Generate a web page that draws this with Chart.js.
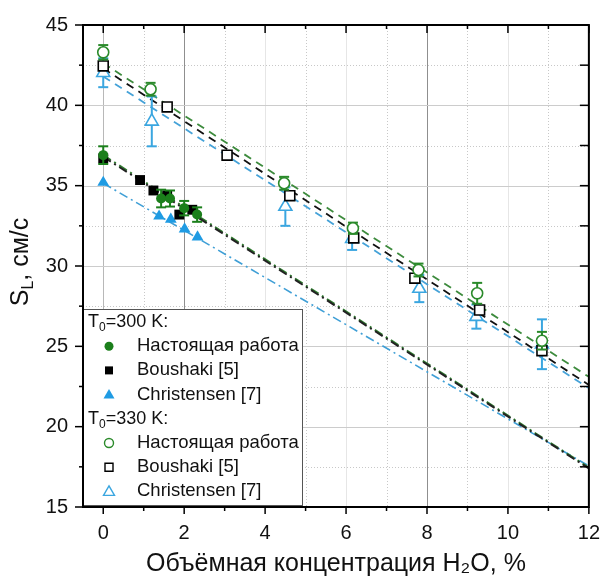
<!DOCTYPE html>
<html>
<head>
<meta charset="utf-8">
<script src="https://cdn.jsdelivr.net/npm/chart.js@4.4.1/dist/chart.umd.min.js"></script>
<style>
  html, body { margin: 0; padding: 0; background: #fff; }
  canvas { display: block; }
</style>
</head>
<body>
<canvas id="chart" width="606" height="580"></canvas>
<script>
const xTicks = [0, 2, 4, 6, 8, 10, 12];
const yTicks = [15, 20, 25, 30, 35, 40, 45];

// T0 = 300 K
const ours300X = [0, 1.43, 1.65, 2.0, 2.32];
const ours300Y = [36.9, 34.2, 34.2, 33.6, 33.2];
const ours300Err = [0.55, 0.55, 0.5, 0.45, 0.45];
const boushaki300X = [0, 0.91, 1.24, 1.58, 1.88, 2.2];
const boushaki300Y = [36.7, 35.35, 34.7, 34.4, 33.2, 33.5];
const christ300X = [0, 1.38, 1.67, 2.01, 2.33];
const christ300Y = [35.2, 33.1, 32.9, 32.3, 31.8];

// T0 = 330 K
const ours330X = [0, 1.17, 4.47, 6.17, 7.79, 9.24, 10.84];
const ours330Y = [43.3, 41.0, 35.15, 32.35, 29.75, 28.3, 25.35];
const ours330Err = [0.45, 0.4, 0.4, 0.35, 0.4, 0.65, 0.55];
const boushaki330X = [0, 1.58, 3.06, 4.61, 6.19, 7.7, 9.3, 10.84];
const boushaki330Y = [42.45, 39.9, 36.9, 34.38, 31.75, 29.24, 27.26, 24.73];
const christ330X = [0, 1.2, 4.5, 6.15, 7.81, 9.22, 10.84];
const christ330Y = [42.03, 39.0, 33.7, 31.7, 28.6, 26.85, 25.13];
const christ330Err = [0.9, 1.55, 1.2, 0.7, 0.85, 0.75, 1.55];

// linear fits, values at x = 0 and x = 12
const fitX = [0, 12];
const fitOurs300 = [36.9, 17.45];
const fitBoushaki300 = [36.8, 17.4];
const fitChrist300 = [35.15, 17.55];
const fitOurs330 = [42.62, 23.1];
const fitBoushaki330 = [42.3, 22.6];
const fitChrist330 = [41.8, 22.4];

const GREEN = '#1b7f1b';
const BLUE = '#1f9be3';
const BLACK = '#000000';

Chart.defaults.font.family = '"Liberation Sans", Arial, sans-serif';
Chart.defaults.color = '#111';

function markers(label, group, xs, ys, errs, style, color, filled, radius) {
  return {
    type: 'scatter',
    label: label,
    group: group,
    data: xs.map((x, i) => ({ x: x, y: ys[i] })),
    errors: errs,
    pointStyle: style,
    pointRadius: radius,
    pointHoverRadius: radius,
    backgroundColor: filled ? color : '#ffffff',
    borderColor: color,
    borderWidth: filled ? 0 : 1.6,
    order: 0
  };
}

function fit(vals, color, dash, width) {
  return {
    type: 'line',
    data: fitX.map((x, i) => ({ x: x, y: vals[i] })),
    borderColor: color,
    borderDash: dash,
    borderWidth: width,
    pointRadius: 0,
    fill: false,
    showLine: true,
    order: 1
  };
}

const dashDot = [9, 4, 2, 4];
const dashed = [8, 6];

const datasets = [
  fit(fitBoushaki300, '#222', dashDot, 2),
  fit(fitOurs300, '#2f7a2f', dashDot, 2),
  fit(fitChrist300, '#3f9fd6', dashDot, 1.6),
  fit(fitOurs330, '#3d8b3d', dashed, 1.8),
  fit(fitBoushaki330, '#111', dashed, 1.8),
  fit(fitChrist330, '#45a2d8', dashed, 1.8),
  markers('Настоящая работа', 300, ours300X, ours300Y, ours300Err, 'circle', GREEN, true, 5),
  markers('Boushaki [5]', 300, boushaki300X, boushaki300Y, null, 'rect', BLACK, true, 7),
  markers('Christensen [7]', 300, christ300X, christ300Y, null, 'triangle', BLUE, true, 6.8),
  markers('Настоящая работа', 330, ours330X, ours330Y, ours330Err, 'circle', '#2a8a2a', false, 5.5),
  markers('Boushaki [5]', 330, boushaki330X, boushaki330Y, null, 'rect', BLACK, false, 7),
  markers('Christensen [7]', 330, christ330X, christ330Y, christ330Err, 'triangle', '#3aa6e0', false, 7.5)
];

function strokeLine(ctx, x1, y1, x2, y2) {
  ctx.beginPath();
  ctx.moveTo(x1, y1);
  ctx.lineTo(x2, y2);
  ctx.stroke();
}

// grid lines under the data
const gridPlugin = {
  id: 'gridLines',
  beforeDatasetsDraw(chart) {
    const { ctx, chartArea: a, scales: { x, y } } = chart;
    ctx.save();
    ctx.lineWidth = 1;
    for (let i = 0; i < xTicks.length; i++) {
      const v = xTicks[i];
      const px = Math.round(x.getPixelForValue(v)) + 0.5;
      ctx.setLineDash([]);
      ctx.strokeStyle = (v === 2 || v === 8) ? '#8f8f8f' : (v === 0 ? '#b8b8b8' : '#e6e6e6');
      strokeLine(ctx, px, a.top, px, a.bottom);
      if (i < xTicks.length - 1) {
        const m = (v + xTicks[i + 1]) / 2;
        const pm = Math.round(x.getPixelForValue(m)) + 0.5;
        ctx.setLineDash([1, 2]);
        ctx.strokeStyle = '#c8c8c8';
        strokeLine(ctx, pm, a.top, pm, a.bottom);
      }
    }
    for (let i = 0; i < yTicks.length; i++) {
      const v = yTicks[i];
      const py = Math.round(y.getPixelForValue(v)) + 0.5;
      ctx.setLineDash([]);
      ctx.strokeStyle = '#cccccc';
      strokeLine(ctx, a.left, py, a.right, py);
      if (i < yTicks.length - 1) {
        const m = (v + yTicks[i + 1]) / 2;
        const pm = Math.round(y.getPixelForValue(m)) + 0.5;
        ctx.setLineDash([1, 2]);
        ctx.strokeStyle = '#c8c8c8';
        strokeLine(ctx, a.left, pm, a.right, pm);
      }
    }
    ctx.restore();
  }
};

// error bars drawn just before their markers
const errorBarPlugin = {
  id: 'errorBars',
  beforeDatasetDraw(chart, args) {
    const ds = chart.data.datasets[args.index];
    if (!ds.errors) return;
    const { ctx, scales: { y } } = chart;
    ctx.save();
    ctx.strokeStyle = ds.borderColor;
    ctx.lineWidth = 2;
    args.meta.data.forEach((el, i) => {
      const e = ds.errors[i];
      const v = ds.data[i].y;
      const top = y.getPixelForValue(v + e);
      const bot = y.getPixelForValue(v - e);
      strokeLine(ctx, el.x, top, el.x, bot);
      strokeLine(ctx, el.x - 5, top, el.x + 5, top);
      strokeLine(ctx, el.x - 5, bot, el.x + 5, bot);
    });
    ctx.restore();
  }
};

function drawMarker(ctx, style, x, y, r, fillColor, strokeColor, lw) {
  ctx.beginPath();
  if (style === 'circle') {
    ctx.arc(x, y, r, 0, Math.PI * 2);
  } else if (style === 'rect') {
    ctx.rect(x - r, y - r, 2 * r, 2 * r);
  } else {
    ctx.moveTo(x, y - r * 1.1);
    ctx.lineTo(x + r * 1.1, y + r * 0.8);
    ctx.lineTo(x - r * 1.1, y + r * 0.8);
    ctx.closePath();
  }
  if (fillColor) { ctx.fillStyle = fillColor; ctx.fill(); }
  if (lw) { ctx.strokeStyle = strokeColor; ctx.lineWidth = lw; ctx.stroke(); }
}

function drawSubText(ctx, x, y, parts, size, subSize, align) {
  // parts: [[text, isSub], ...]
  let total = 0;
  parts.forEach(p => {
    ctx.font = (p[1] ? subSize : size) + 'px "Liberation Sans", Arial, sans-serif';
    total += ctx.measureText(p[0]).width;
  });
  let cx = align === 'center' ? x - total / 2 : x;
  ctx.textAlign = 'left';
  ctx.textBaseline = 'middle';
  parts.forEach(p => {
    ctx.font = (p[1] ? subSize : size) + 'px "Liberation Sans", Arial, sans-serif';
    ctx.fillText(p[0], cx, p[1] ? y + size * 0.3 : y);
    cx += ctx.measureText(p[0]).width;
  });
}

// frame, tick marks, legend and y title
const framePlugin = {
  id: 'frame',
  afterDatasetsDraw(chart) {
    const { ctx, chartArea: a, scales: { x, y } } = chart;
    ctx.save();
    ctx.strokeStyle = '#000';
    ctx.lineWidth = 1.5;
    for (let i = 0; i < xTicks.length; i++) {
      const vals = [xTicks[i]];
      if (i < xTicks.length - 1) vals.push((xTicks[i] + xTicks[i + 1]) / 2);
      vals.forEach((v, k) => {
        const px = x.getPixelForValue(v);
        strokeLine(ctx, px, a.bottom, px, a.bottom + (k === 0 ? 7 : 4));
        strokeLine(ctx, px, a.top, px, a.top + (k === 0 ? 8 : 4));
      });
    }
    for (let i = 0; i < yTicks.length; i++) {
      const vals = [yTicks[i]];
      if (i < yTicks.length - 1) vals.push((yTicks[i] + yTicks[i + 1]) / 2);
      vals.forEach((v, k) => {
        const py = y.getPixelForValue(v);
        strokeLine(ctx, a.left, py, a.left - (k === 0 ? 8 : 4), py);
        strokeLine(ctx, a.right, py, a.right - 9, py);
      });
    }

    // legend box
    const lx = a.left, ly = a.bottom - 198, lw = 219, lh = 196;
    ctx.fillStyle = '#ffffff';
    ctx.fillRect(lx, ly, lw, lh);
    ctx.lineWidth = 1;
    ctx.strokeStyle = '#555';
    ctx.strokeRect(lx + 0.5, ly + 0.5, lw, lh);

    const rowH = 24.2;
    let ry = ly + 13;
    [300, 330].forEach(t => {
      ctx.fillStyle = '#111';
      drawSubText(ctx, lx + 5, ry, [['T', false], ['0', true], ['=' + t + ' K:', false]], 18, 12, 'left');
      ry += rowH;
      chart.data.datasets.filter(d => d.group === t).forEach(d => {
        const filled = d.borderWidth === 0;
        const r = d.pointStyle === 'circle' ? 4.5 : (d.pointStyle === 'rect' ? 4 : 5);
        drawMarker(ctx, d.pointStyle, lx + 26, ry, r,
          filled ? d.backgroundColor : '#ffffff', d.borderColor, filled ? 0 : 1.4);
        ctx.fillStyle = '#111';
        drawSubText(ctx, lx + 54, ry, [[d.label, false]], 18.5, 12, 'left');
        ry += rowH;
      });
    });

    // axis frame
    ctx.strokeStyle = '#000';
    ctx.lineWidth = 2;
    ctx.strokeRect(a.left, a.top, a.right - a.left, a.bottom - a.top);
    ctx.restore();
  },
  afterDraw(chart) {
    const { ctx, chartArea: a } = chart;
    ctx.save();
    ctx.translate(21, (a.top + a.bottom) / 2 - 4);
    ctx.rotate(-Math.PI / 2);
    ctx.fillStyle = '#111';
    drawSubText(ctx, 0, 0, [['S', false], ['L', true], [', см/с', false]], 25, 16, 'center');
    ctx.restore();
  }
};

new Chart(document.getElementById('chart'), {
  type: 'scatter',
  data: { datasets: datasets },
  options: {
    responsive: false,
    animation: false,
    devicePixelRatio: 1,
    layout: { padding: { top: 25, right: 14, left: 0, bottom: 0 } },
    plugins: { legend: { display: false }, tooltip: { enabled: false } },
    scales: {
      x: {
        type: 'linear',
        min: -0.5,
        max: 12,
        afterBuildTicks: s => { s.ticks = xTicks.map(v => ({ value: v })); },
        afterFit: s => { s.height = 73; },
        grid: { display: false },
        border: { display: false },
        ticks: { font: { size: 20 }, color: '#111', padding: 6, maxRotation: 0 },
        title: {
          display: true,
          text: 'Объёмная концентрация H₂O, %',
          font: { size: 25 },
          color: '#111',
          padding: { top: 0, bottom: 1 }
        }
      },
      y: {
        type: 'linear',
        min: 15,
        max: 45,
        afterBuildTicks: s => { s.ticks = yTicks.map(v => ({ value: v })); },
        afterFit: s => { s.width = 83; },
        grid: { display: false },
        border: { display: false },
        ticks: { font: { size: 20 }, color: '#111', padding: 7 }
      }
    }
  },
  plugins: [gridPlugin, errorBarPlugin, framePlugin]
});
</script>
</body>
</html>
